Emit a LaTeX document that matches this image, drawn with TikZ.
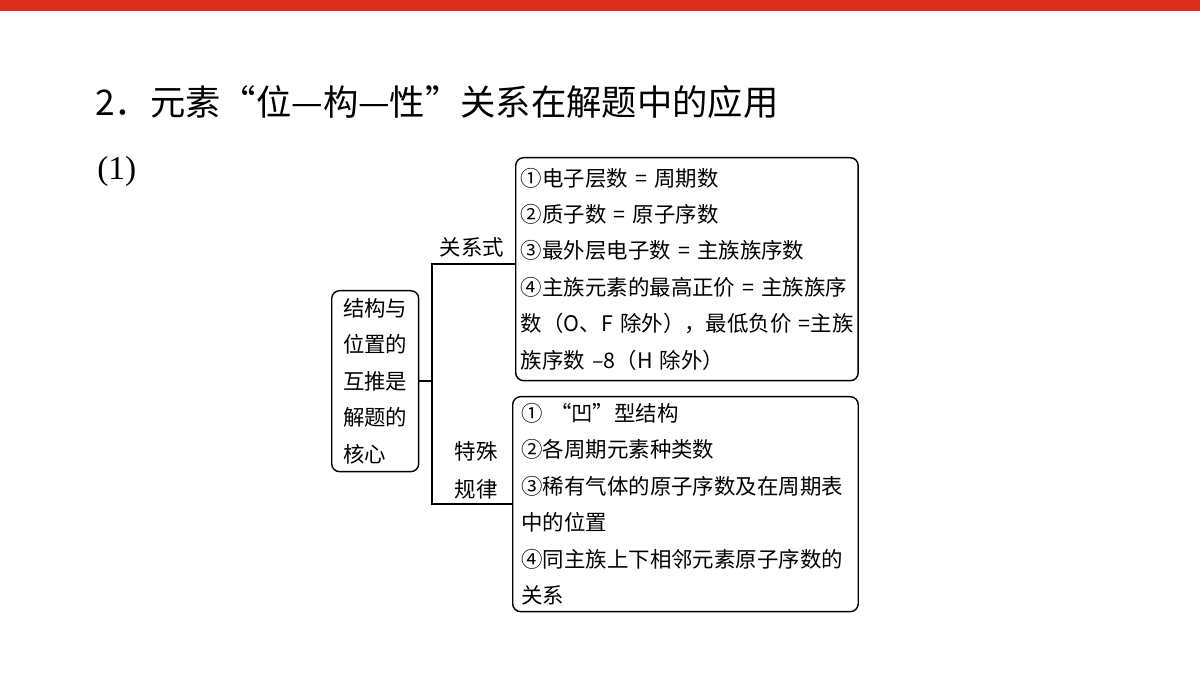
\documentclass[tikz,border=0pt]{standalone}
\usepackage{fontspec}
\setmainfont{Liberation Serif}
\newfontfamily\cjk{Noto Sans CJK SC}
\definecolor{barred}{RGB}{224,46,30}

\begin{document}
\begin{tikzpicture}[x=0.02cm, y=-0.02cm,
  txt/.style={font=\cjk\fontsize{12.2}{20.75}\selectfont, inner sep=0pt},
  box/.style={txt, draw, line width=0.8pt, rounded corners=4.5pt, anchor=north west, align=left},
  link/.style={line width=0.8pt}]
\useasboundingbox (0, 0) rectangle (1200, 675);
\fill[barred] (0, 0) rectangle (1200, 11);

\node[anchor=base west, inner sep=0pt, font=\cjk\fontsize{20.1}{24}\selectfont] (title) at (95, 116) {2．元素“位—构—性”关系在解题中的应用};
\node[anchor=base west, inner sep=0pt, font=\fontsize{19}{24}\selectfont] (part) at (97, 180) {(1)};

% left box
\node[box, minimum width=1.74cm, minimum height=3.62cm] (core) at (331, 290)
  {结构与\\位置的\\互推是\\解题的\\核心};

% right boxes
\node[box, text width=6.64cm, inner xsep=3pt, minimum height=4.46cm] (formula) at (515, 157)
  {①电子层数~=~周期数\\
   ②质子数~=~原子序数\\
   ③最外层电子数~=~主族族序数\\
   ④主族元素的最高正价~=~主族族序\\
   数（O、F~除外），最低负价~=主族\\
   族序数~–8（H~除外）};
\node[box, text width=6.56cm, inner xsep=5pt, minimum height=4.3cm] (rule) at (512, 396)
  {①~“凹”型结构\\
   ②各周期元素种类数\\
   ③稀有气体的原子序数及在周期表\\
   中的位置\\
   ④同主族上下相邻元素原子序数的\\
   关系};

% bracket
\coordinate (forkTop) at (432, 264);
\coordinate (forkBot) at (432, 504);
\draw[link] (core.east) -- (core.east -| forkTop);
\draw[link] (formula.west |- forkTop) -- (forkTop) -- (forkBot) -- (rule.west |- forkBot);

\node[txt] (relLabel) at (472, 247) {关系式};
\node[txt, align=center, font=\cjk\fontsize{12.2}{21.5}\selectfont] (ruleLabel) at (476, 470) {特殊\\规律};
\end{tikzpicture}
\end{document}
